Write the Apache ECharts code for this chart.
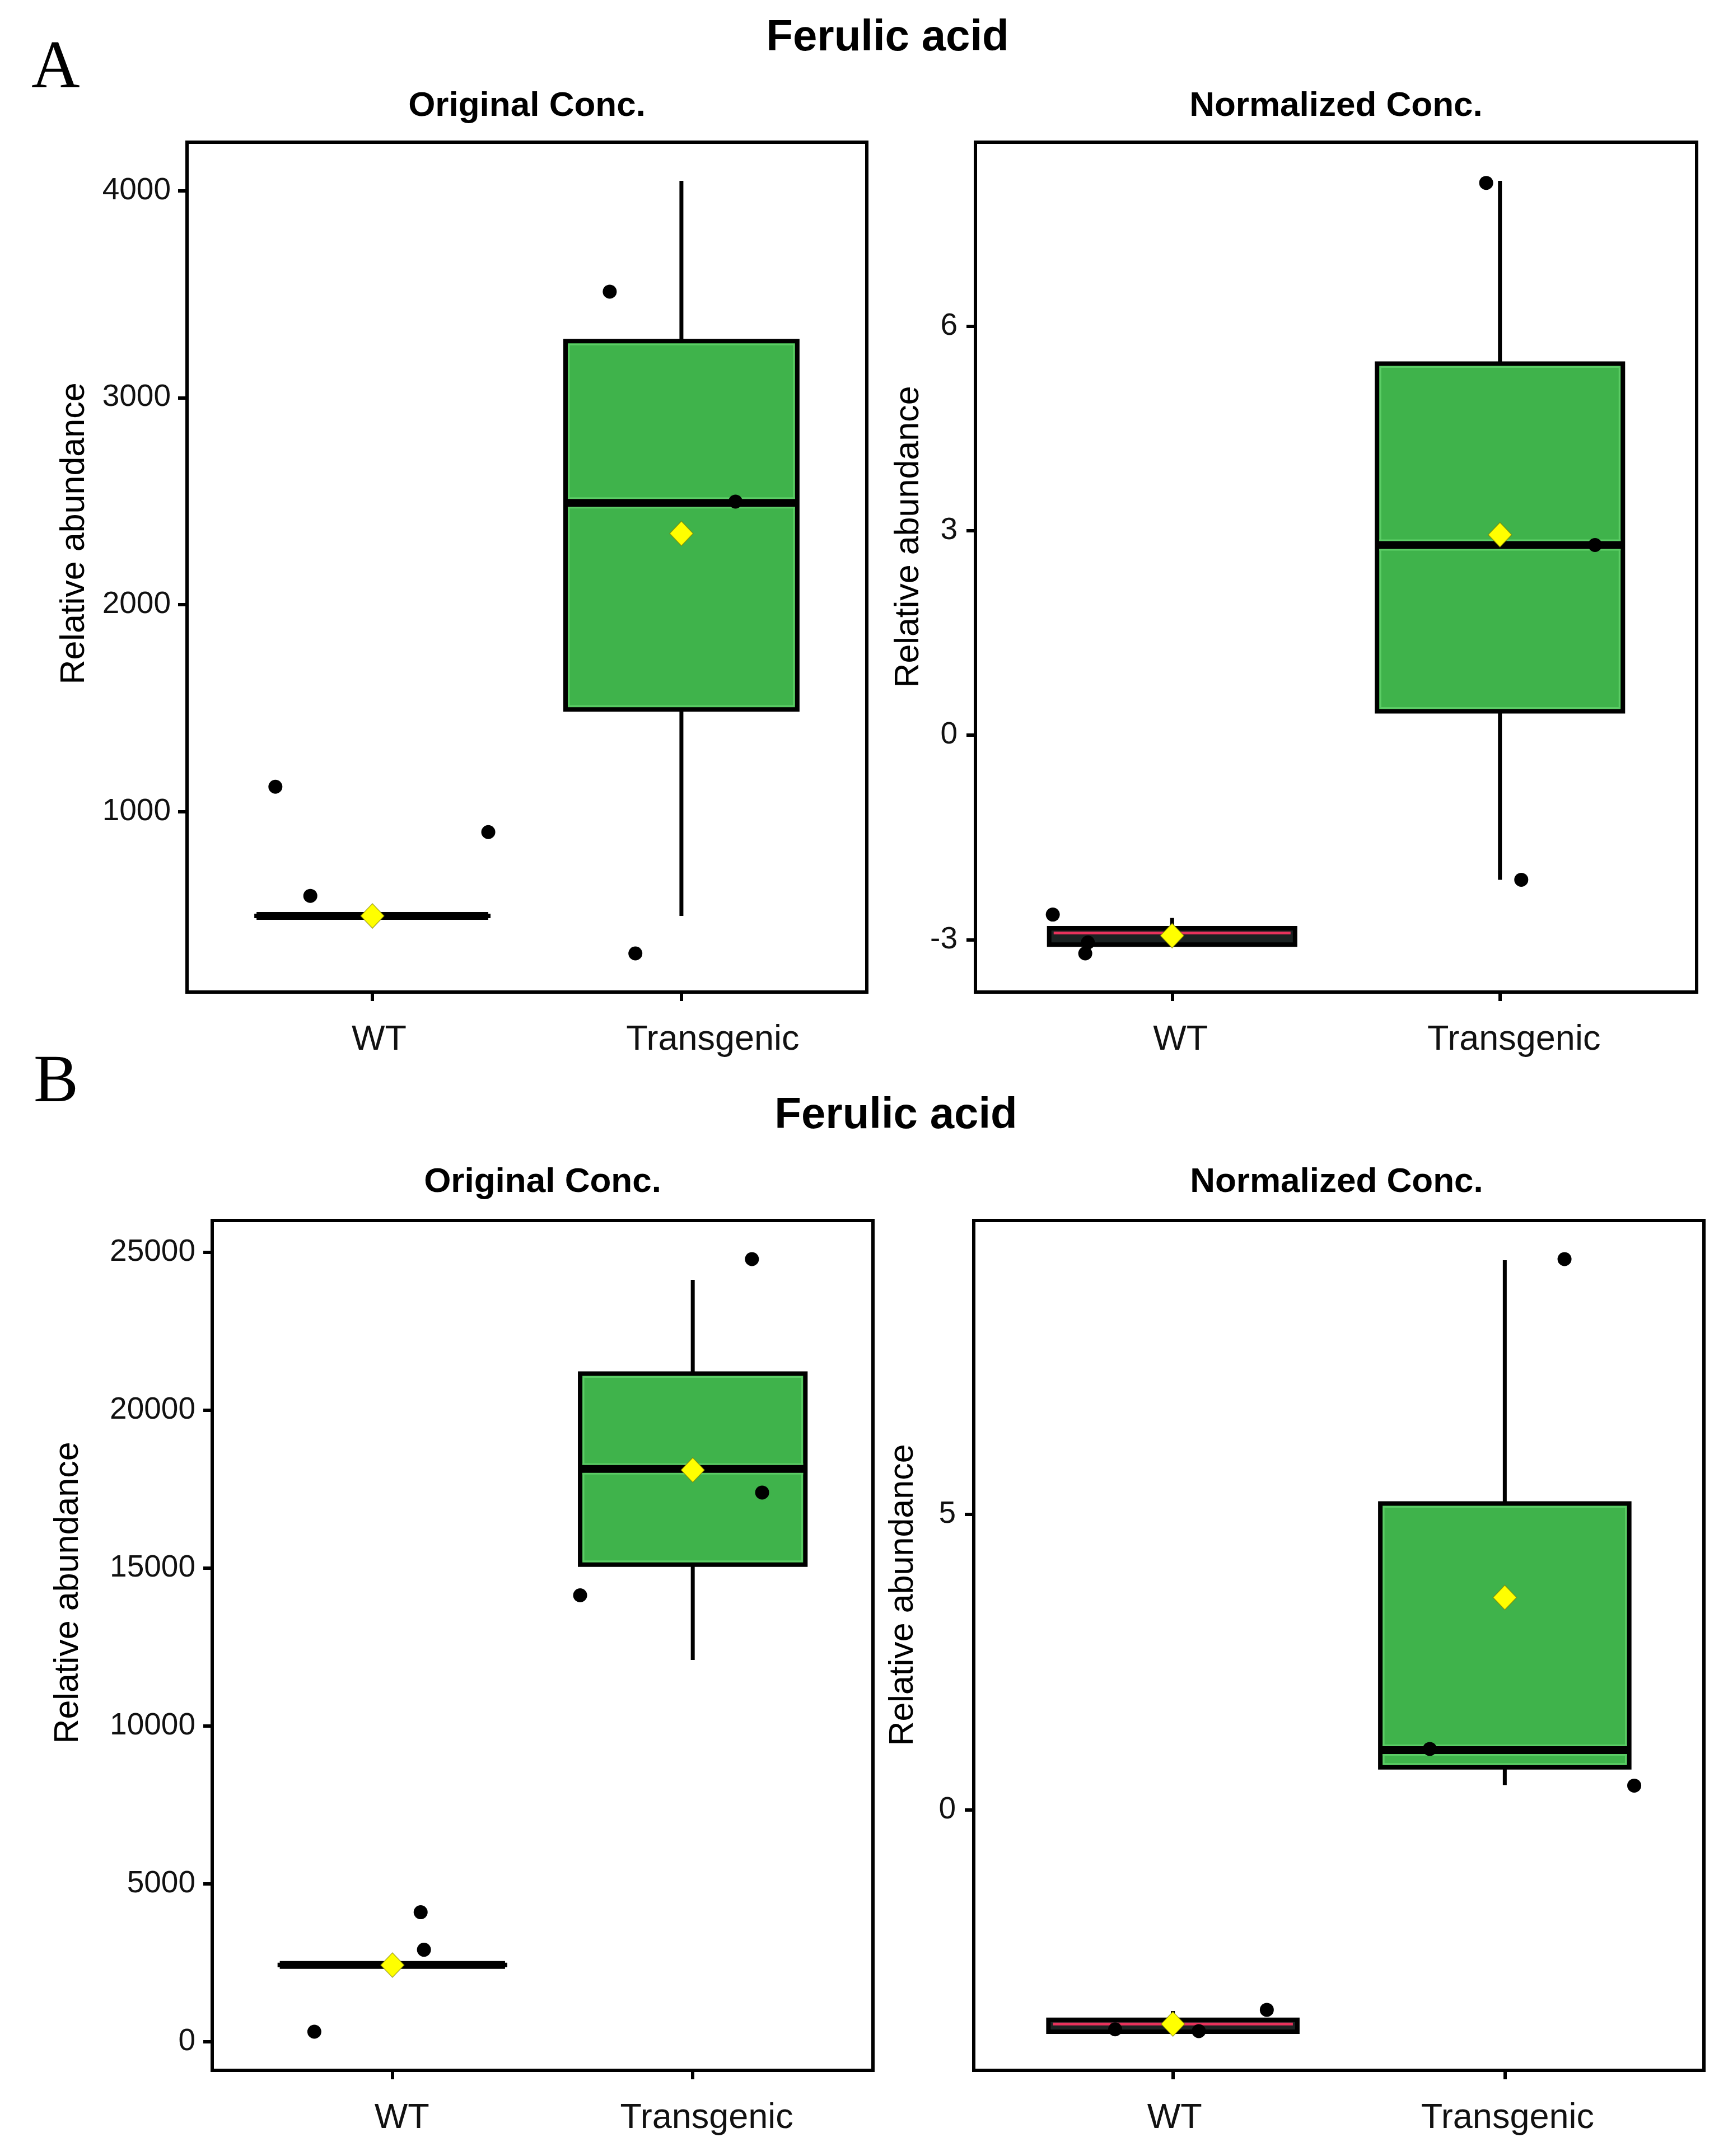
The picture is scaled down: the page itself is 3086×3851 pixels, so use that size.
<!DOCTYPE html>
<html><head><meta charset="utf-8">
<script src="https://cdn.jsdelivr.net/npm/echarts@6/dist/echarts.min.js"></script>
<style>html,body{margin:0;padding:0;background:#fff}#c{width:3086px;height:3851px}</style>
</head><body><div id="c"></div>
<script>
// ---------- DATA ----------
const groups = ['WT', 'Transgenic'];
const groupPos = [1, 2];

// Panel A - Original Conc.  box = [lower whisker, Q1, median, Q3, upper whisker]
const aOrigBoxWT = [497, 497, 497, 497, 497];
const aOrigBoxTG = [497, 1494, 2492, 3273, 4047];
const aOrigMean = [497, 2344];
const aOrigPtsWTx = [0.686, 0.799, 1.375];
const aOrigPtsWTy = [1121, 594, 902];
const aOrigPtsTGx = [1.768, 2.175, 1.851];
const aOrigPtsTGy = [3512, 2498, 316];
const aOrigTicks = [1000, 2000, 3000, 4000];

// Panel A - Normalized Conc.
const aNormBoxWT = [-3.07, -3.07, -2.90, -2.83, -2.68];
const aNormBoxTG = [-2.12, 0.35, 2.79, 5.45, 8.13];
const aNormMean = [-2.94, 2.94];
const aNormPtsWTx = [0.636, 0.743, 0.735];
const aNormPtsWTy = [-2.63, -3.04, -3.20];
const aNormPtsTGx = [1.958, 2.29, 2.065];
const aNormPtsTGy = [8.10, 2.79, -2.12];
const aNormTicks = [-3, 0, 3, 6];

// Panel B - Original Conc.
const bOrigBoxWT = [2423, 2423, 2423, 2423, 2423];
const bOrigBoxTG = [12085, 15104, 18136, 21153, 24124];
const bOrigMean = [2420, 18100];
const bOrigPtsWTx = [1.094, 1.105, 0.74];
const bOrigPtsWTy = [4094, 2906, 310];
const bOrigPtsTGx = [2.197, 2.231, 1.625];
const bOrigPtsTGy = [24779, 17386, 14132];
const bOrigTicks = [0, 5000, 10000, 15000, 20000, 25000];

// Panel B - Normalized Conc.
const bNormBoxWT = [-3.75, -3.75, -3.62, -3.55, -3.40];
const bNormBoxTG = [0.42, 0.72, 1.01, 5.18, 9.29];
const bNormMean = [-3.62, 3.59];
const bNormPtsWTx = [0.826, 1.078, 1.283];
const bNormPtsWTy = [-3.71, -3.74, -3.38];
const bNormPtsTGx = [2.18, 1.774, 2.39];
const bNormPtsTGy = [9.31, 1.03, 0.41];
const bNormTicks = [0, 5];

const mainTitle = 'Ferulic acid';
const subTitles = ['Original Conc.', 'Normalized Conc.'];
const yTitle = 'Relative abundance';
const panelLetters = ['A', 'B'];

// ---------- STYLE / LAYOUT ----------
const FONT = "'Liberation Sans', Arial, Helvetica, sans-serif";
const GREEN = '#3fb34b';
const GLOW = '#5ccd66';
const RED = '#e8325c';
const styleOrig = { fill: ['#000', GREEN], glow: [null, GLOW], med: ['#000', '#000'], medWidth: [14, 14], medInset: [0, 0] };
const styleNorm = { fill: ['#1b2222', GREEN], glow: [null, GLOW], med: [RED, '#000'], medWidth: [5, 14], medInset: [8, 0] };

const panels = [
  { box: [aOrigBoxWT, aOrigBoxTG], mean: aOrigMean, px: [aOrigPtsWTx, aOrigPtsTGx], py: [aOrigPtsWTy, aOrigPtsTGy], ticks: aOrigTicks, st: styleOrig,
    grid: { left: 334, top: 254, width: 1214, height: 1518 }, labelMargin: 29, xShift: [12, 56], sub: [subTitles[0], 941, 190], ytitle: [133, 953] },
  { box: [aNormBoxWT, aNormBoxTG], mean: aNormMean, px: [aNormPtsWTx, aNormPtsTGx], py: [aNormPtsWTy, aNormPtsTGy], ticks: aNormTicks, st: styleNorm,
    grid: { left: 1742, top: 254, width: 1288, height: 1518 }, labelMargin: 32, xShift: [15, 25], sub: [subTitles[1], 2386, 190], ytitle: [1623, 959] },
  { box: [bOrigBoxWT, bOrigBoxTG], mean: bOrigMean, px: [bOrigPtsWTx, bOrigPtsTGx], py: [bOrigPtsWTy, bOrigPtsTGy], ticks: bOrigTicks, st: styleOrig,
    grid: { left: 379, top: 2180, width: 1180, height: 1518 }, labelMargin: 30, xShift: [17, 25], sub: [subTitles[0], 969, 2112], ytitle: [122, 2845] },
  { box: [bNormBoxWT, bNormBoxTG], mean: bNormMean, px: [bNormPtsWTx, bNormPtsTGx], py: [bNormPtsWTy, bNormPtsTGy], ticks: bNormTicks, st: styleNorm,
    grid: { left: 1739, top: 2180, width: 1304, height: 1518 }, labelMargin: 32, xShift: [3, 5], sub: [subTitles[1], 2387, 2112], ytitle: [1613, 2849] }
];

// ggplot-like 5% expansion of the drawn data range
function expanded(p) {
  const vals = [].concat(p.box[0], p.box[1], p.py[0], p.py[1], p.mean);
  const mn = Math.min.apply(null, vals), mx = Math.max.apply(null, vals);
  const pad = (mx - mn) * 0.05;
  return [mn - pad, mx + pad];
}

const HALF = 0.375;
const BORDER = 8;
function makeBoxRenderer(st) {
  return function (params, api) {
    const i = params.dataIndex;
    const x = api.value(0);
    const mn = api.value(1), q1 = api.value(2), md = api.value(3), q3 = api.value(4), mx = api.value(5);
    const pTL = api.coord([x - HALF, q3]);
    const pBR = api.coord([x + HALF, q1]);
    const c = api.coord([x, md]);
    const top = api.coord([x, mx]);
    const bot = api.coord([x, mn]);
    const rx = pTL[0], ry = pTL[1], rw = pBR[0] - pTL[0], rh = pBR[1] - pTL[1];
    const ch = [
      { type: 'line', shape: { x1: c[0], y1: top[1], x2: c[0], y2: ry }, style: { stroke: '#000', lineWidth: 7 } },
      { type: 'line', shape: { x1: c[0], y1: ry + rh, x2: c[0], y2: bot[1] }, style: { stroke: '#000', lineWidth: 7 } },
      { type: 'rect', shape: { x: rx, y: ry, width: rw, height: Math.max(rh, 0.01) }, style: { fill: st.fill[i], stroke: '#000', lineWidth: BORDER } }
    ];
    if (st.glow[i] && rh > 16) {
      ch.push({ type: 'rect', shape: { x: rx + 6, y: ry + 6, width: rw - 12, height: rh - 12 }, style: { fill: 'none', stroke: st.glow[i], lineWidth: 3 } });
      ch.push({ type: 'line', shape: { x1: rx + 4, y1: c[1], x2: rx + rw - 4, y2: c[1] }, style: { stroke: st.glow[i], lineWidth: st.medWidth[i] + 6 } });
    }
    const ins = st.medInset[i];
    ch.push({ type: 'line', shape: { x1: rx + ins, y1: c[1], x2: rx + rw - ins, y2: c[1] }, style: { stroke: st.med[i], lineWidth: st.medWidth[i] } });
    return { type: 'group', children: ch };
  };
}

const grids = [], xAxes = [], yAxes = [], series = [], graphics = [];
panels.forEach(function (p, k) {
  grids.push(Object.assign({ show: true, borderColor: '#000', borderWidth: 6, backgroundColor: 'transparent', containLabel: false }, p.grid));
  const xrich = {};
  groups.forEach(function (g, gi) {
    xrich['g' + gi] = { fontSize: 63, fontFamily: FONT, color: '#111', padding: [0, 0, 0, 2 * p.xShift[gi]] };
  });
  xAxes.push({
    type: 'value', gridIndex: k, min: 0.4, max: 2.6,
    axisLine: { show: true, onZero: false, lineStyle: { color: '#000', width: 6 } },
    axisTick: { show: true, customValues: groupPos, length: 16, lineStyle: { color: '#000', width: 6 } },
    axisLabel: { show: true, customValues: groupPos, margin: 54, fontSize: 63, fontFamily: FONT, color: '#111', rich: xrich,
      formatter: function (v) { const gi = Math.round(v) - 1; return groups[gi] ? '{g' + gi + '|' + groups[gi] + '}' : ''; } },
    splitLine: { show: false }
  });
  const r = expanded(p);
  yAxes.push({
    type: 'value', gridIndex: k, min: r[0], max: r[1],
    axisLine: { show: true, onZero: false, lineStyle: { color: '#000', width: 6 } },
    axisTick: { show: true, customValues: p.ticks, length: 16, lineStyle: { color: '#000', width: 6 } },
    axisLabel: { show: true, customValues: p.ticks, margin: p.labelMargin, fontSize: 55, fontFamily: FONT, color: '#111',
      formatter: function (v) { return String(v); } },
    splitLine: { show: false }
  });
  series.push({
    type: 'custom', xAxisIndex: k, yAxisIndex: k, z: 2, silent: true,
    renderItem: makeBoxRenderer(p.st),
    encode: { x: 0, y: [1, 2, 3, 4, 5] },
    data: [[groupPos[0]].concat(p.box[0]), [groupPos[1]].concat(p.box[1])]
  });
  const pts = [];
  for (let g = 0; g < 2; g++) for (let j = 0; j < p.px[g].length; j++) pts.push([p.px[g][j], p.py[g][j]]);
  series.push({
    type: 'scatter', xAxisIndex: k, yAxisIndex: k, z: 3, silent: true,
    symbol: 'circle', symbolSize: 25, itemStyle: { color: '#000', opacity: 1 }, data: pts
  });
  series.push({
    type: 'scatter', xAxisIndex: k, yAxisIndex: k, z: 4, silent: true,
    symbol: 'diamond', symbolSize: [42, 44], itemStyle: { color: '#ffff00', opacity: 1, borderColor: 'rgba(120,120,0,0.6)', borderWidth: 1.5 },
    data: [[groupPos[0], p.mean[0]], [groupPos[1], p.mean[1]]]
  });
  graphics.push({ type: 'text', x: p.sub[1], y: p.sub[2], z: 10,
    style: { text: p.sub[0], font: 'bold 62px ' + FONT, fill: '#000', align: 'center', verticalAlign: 'middle', textAlign: 'center', textVerticalAlign: 'middle' } });
  graphics.push({ type: 'text', x: p.ytitle[0], y: p.ytitle[1], rotation: Math.PI / 2, z: 10,
    style: { text: yTitle, font: '61px ' + FONT, fill: '#000', align: 'center', verticalAlign: 'middle', textAlign: 'center', textVerticalAlign: 'middle' } });
});

// main titles and panel letters
[[1585, 68], [1600, 1993]].forEach(function (pos) {
  graphics.push({ type: 'text', x: pos[0], y: pos[1], z: 10,
    style: { text: mainTitle, font: 'bold 78px ' + FONT, fill: '#000', align: 'center', verticalAlign: 'middle', textAlign: 'center', textVerticalAlign: 'middle' } });
});
[[56, 124], [60, 1935]].forEach(function (pos, i) {
  graphics.push({ type: 'text', x: pos[0], y: pos[1], z: 10,
    style: { text: panelLetters[i], font: "120px 'Liberation Serif', 'Times New Roman', serif", fill: '#000', align: 'left', verticalAlign: 'middle', textAlign: 'left', textVerticalAlign: 'middle' } });
});

const chart = echarts.init(document.getElementById('c'), null, { renderer: 'canvas', width: 3086, height: 3851, devicePixelRatio: 1 });
chart.setOption({
  animation: false,
  backgroundColor: '#fff',
  grid: grids, xAxis: xAxes, yAxis: yAxes, series: series, graphic: graphics
});
</script></body></html>
